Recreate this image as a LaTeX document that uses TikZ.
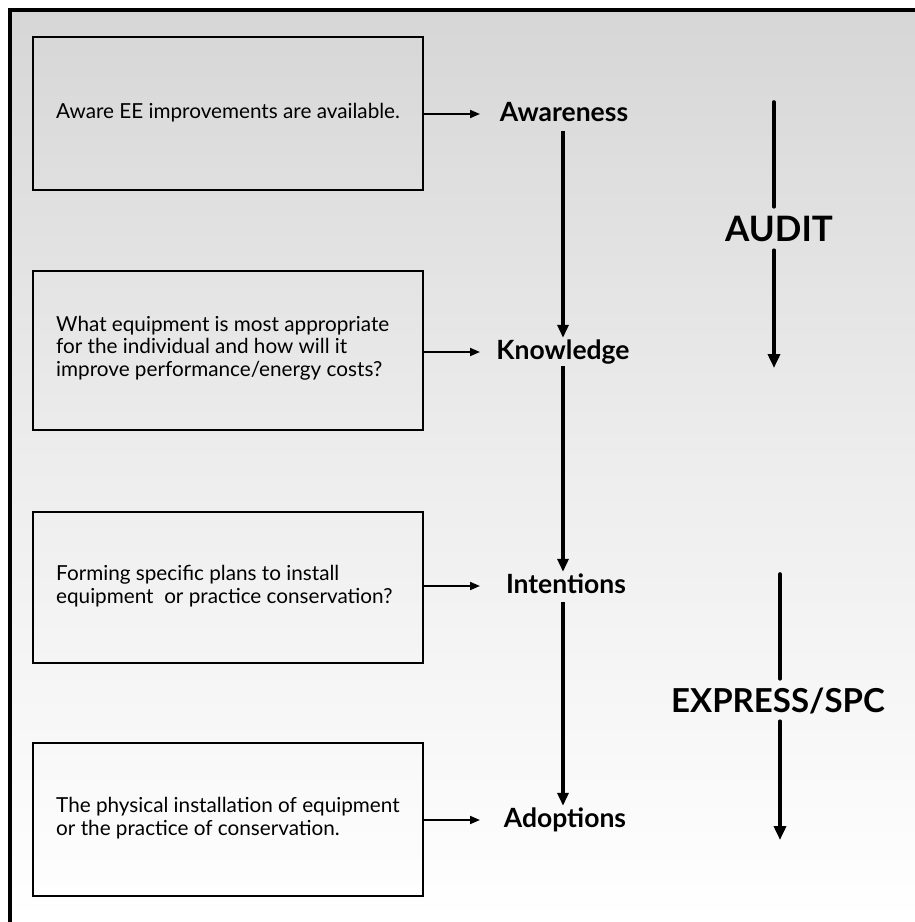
\documentclass[tikz,border=0pt]{standalone}
\usepackage{fontspec}
\setmainfont{Lato}
\usetikzlibrary{arrows.meta,calc}
\begin{document}
\begin{tikzpicture}[x=1pt,y=-1pt,
  descbox/.style={draw=black,line width=2pt,minimum width=390pt,inner sep=0pt},
  desctext/.style={anchor=west,align=left,inner sep=0pt,font=\fontsize{20.7}{22.5}\selectfont},
  stage/.style={font=\fontsize{26.5}{30}\selectfont\bfseries,inner sep=2pt,text height=19pt,text depth=5pt},
  phase/.style={font=\bfseries,inner xsep=2pt,inner ysep=9pt,text depth=0pt},
  harrow/.style={line width=1.8pt,-{Triangle[length=10pt,width=8pt]}},
  varrow/.style={line width=3.2pt,-{Triangle[length=13pt,width=11pt]}},
  vline/.style={line width=3.6pt,line cap=round},
  parrow/.style={line width=3.6pt,line cap=round,-{Triangle[length=14pt,width=12pt]}}]
\useasboundingbox (0,0) rectangle (915,922);
\fill[top color=black!16,bottom color=white,middle color=black!7] (10,10) rectangle (915,922);
\draw[line width=4pt] (8,10) -- (915,10);
\draw[line width=4pt] (10,8) -- (10,922);

% boxes
\node[descbox,minimum height=153pt] (b1) at (228,113.5) {};
\node[descbox,minimum height=159pt] (b2) at (228,350.5) {};
\node[descbox,minimum height=151pt] (b3) at (228,587.5) {};
\node[descbox,minimum height=153pt] (b4) at (228,819.5) {};

\node[desctext] (t1) at (56,113) {Aware EE improvements are available.};
\node[desctext] (t2) at (56,348) {What equipment is most appropriate\\for the individual and how will it\\improve performance/energy costs?};
\node[desctext] (t3) at (56,586) {Forming specific plans to install\\equipment~ or practice conservation?};
\node[desctext] (t4) at (56,818) {The physical installation of equipment\\or the practice of conservation.};

% stages
\node[stage] (aw) at (564,114) {Awareness};
\node[stage] (kn) at (563,352) {Knowledge};
\node[stage] (in) at (566,586) {Intentions};
\node[stage] (ad) at (565,820) {Adoptions};

\coordinate (ax) at (480,0);
\draw[harrow] (b1.east |- aw) -- (ax |- aw);
\draw[harrow] (b2.east |- kn) -- (ax |- kn);
\draw[harrow] (b3.east |- in) -- (ax |- in);
\draw[harrow] (b4.east |- ad) -- (ax |- ad);

\coordinate (vx) at (563,0);
\draw[varrow] ([yshift=-3pt]vx |- aw.south) -- (vx |- kn.north);
\draw[varrow] (vx |- kn.south) -- (vx |- in.north);
\draw[varrow] ([yshift=-2pt]vx |- in.south) -- (vx |- ad.north);

% phases
\node[phase,font=\fontsize{35}{40}\selectfont\bfseries,text height=25pt] (audit) at (779,228.5) {AUDIT};
\coordinate (au1) at (774,102);
\coordinate (au2) at (774,368);
\draw[vline] (au1) -- (au1 |- audit.north);
\draw[parrow] (au1 |- audit.south) -- (au2);

\node[phase,font=\fontsize{33}{38}\selectfont\bfseries,text height=24pt] (exp) at (778,700) {EXPRESS/SPC};
\coordinate (ex1) at (780,574);
\coordinate (ex2) at (780,840);
\draw[vline] (ex1) -- (ex1 |- exp.north);
\draw[parrow] (ex1 |- exp.south) -- (ex2);
\end{tikzpicture}
\end{document}
